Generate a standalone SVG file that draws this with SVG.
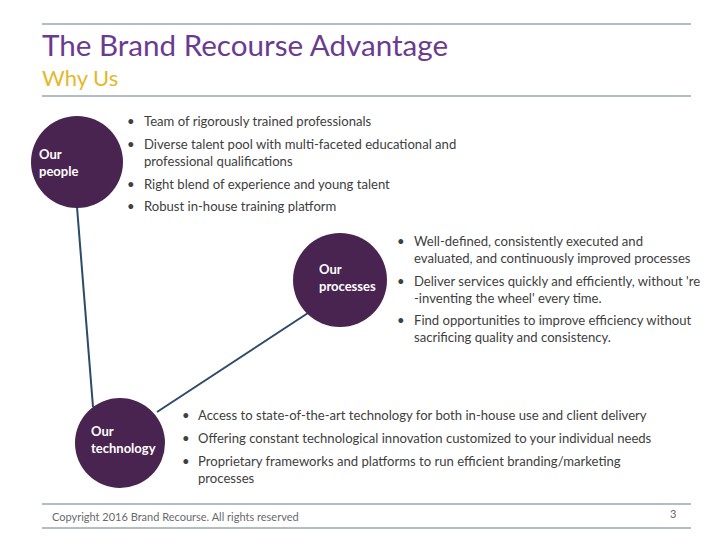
<svg xmlns="http://www.w3.org/2000/svg" width="720" height="540" viewBox="0 0 720 540">
<style>
.rule{stroke:#6b7b8a;stroke-width:1.2}
.title{font-family:Lato,"Liberation Sans",sans-serif;font-size:29.6px;fill:#6a3b8e}
.sub{font-family:Lato,"Liberation Sans",sans-serif;font-size:22px;fill:#e5b82a}
.node{fill:#4a2450}
.nl{font-family:Lato,"Liberation Sans",sans-serif;font-size:13px;font-weight:bold;fill:#ffffff}
.b{font-family:Lato,"Liberation Sans",sans-serif;font-size:13.1px;fill:#404040}
.conn{stroke:#2c4a6a;stroke-width:2;fill:none}
.foot{font-family:Lato,"Liberation Sans",sans-serif;font-size:11px;fill:#6a6a6a}
</style>
<rect width="720" height="540" fill="#ffffff"/>
<line class="rule" x1="42" y1="24" x2="691" y2="24"/>
<line class="rule" x1="42" y1="96" x2="691" y2="96"/>
<text class="title" x="42" y="56">The Brand Recourse Advantage</text>
<text class="sub" x="42" y="86">Why Us</text>
<g id="connectors">
<line class="conn" x1="77" y1="207" x2="93" y2="407"/>
<line class="conn" x1="308" y1="313" x2="157" y2="412"/>
</g>
<g id="people">
<circle class="node" cx="77" cy="162" r="46"/>
<text class="nl" x="39" y="159">Our</text>
<text class="nl" x="39" y="176">people</text>
</g>
<g id="processes">
<circle class="node" cx="340" cy="280" r="47"/>
<text class="nl" x="319" y="274">Our</text>
<text class="nl" x="319" y="291">processes</text>
</g>
<g id="technology">
<circle class="node" cx="120" cy="443" r="45"/>
<text class="nl" x="91" y="436">Our</text>
<text class="nl" x="91" y="453">technology</text>
</g>
<g id="people-text">
<text class="b" x="127" y="126">•</text><text class="b" x="144" y="126">Team of rigorously trained professionals</text>
<text class="b" x="127" y="149">•</text><text class="b" x="144" y="149">Diverse talent pool with multi-faceted educational and</text>
<text class="b" x="144" y="166">professional qualifications</text>
<text class="b" x="127" y="189">•</text><text class="b" x="144" y="189">Right blend of experience and young talent</text>
<text class="b" x="127" y="211">•</text><text class="b" x="144" y="211">Robust in-house training platform</text>
</g>
<g id="processes-text">
<text class="b" x="397" y="246">•</text><text class="b" x="414" y="246">Well-defined, consistently executed and</text>
<text class="b" x="414" y="263">evaluated, and continuously improved processes</text>
<text class="b" x="397" y="286">•</text><text class="b" x="414" y="286">Deliver services quickly and efficiently, without 're</text>
<text class="b" x="414" y="303">-inventing the wheel' every time.</text>
<text class="b" x="397" y="325">•</text><text class="b" x="414" y="325">Find opportunities to improve efficiency without</text>
<text class="b" x="414" y="342">sacrificing quality and consistency.</text>
</g>
<g id="technology-text">
<text class="b" x="182" y="420">•</text><text class="b" x="198" y="420">Access to state-of-the-art technology for both in-house use and client delivery</text>
<text class="b" x="182" y="443">•</text><text class="b" x="198" y="443">Offering constant technological innovation customized to your individual needs</text>
<text class="b" x="182" y="466">•</text><text class="b" x="198" y="466">Proprietary frameworks and platforms to run efficient branding/marketing</text>
<text class="b" x="198" y="483">processes</text>
</g>
<line class="rule" x1="42" y1="504" x2="691" y2="504"/>
<line class="rule" x1="42" y1="528" x2="691" y2="528"/>
<text class="foot" x="52" y="521">Copyright 2016 Brand Recourse. All rights reserved</text>
<text class="foot" x="670" y="518">3</text>
</svg>
